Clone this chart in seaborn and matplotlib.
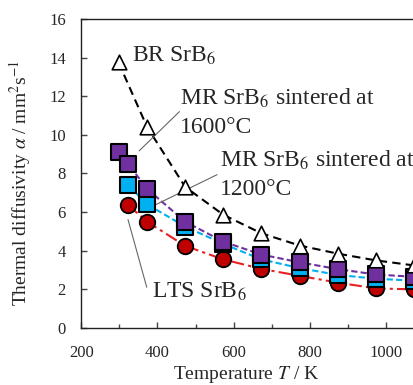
import numpy as np
import pandas as pd
import matplotlib
matplotlib.use("Agg")
import matplotlib.pyplot as plt
from matplotlib.ticker import MultipleLocator
import seaborn as sns

T_br = [298, 373, 473, 573, 673, 773, 873, 973, 1073]
a_br = [13.75, 10.4, 7.3, 5.86, 4.9, 4.27, 3.85, 3.5, 3.24]

T_mr1600 = [298, 323, 373, 473, 573, 673, 773, 873, 973, 1073]
a_mr1600 = [9.13, 8.5, 7.2, 5.5, 4.47, 3.8, 3.4, 3.05, 2.77, 2.65]

T_mr1200 = [323, 373, 473, 573, 673, 773, 873, 973, 1073]
a_mr1200 = [7.4, 6.4, 5.25, 4.35, 3.55, 3.1, 2.75, 2.55, 2.45]

T_lts = [323, 373, 473, 573, 673, 773, 873, 973, 1073]
a_lts = [6.37, 5.5, 4.25, 3.55, 3.06, 2.7, 2.35, 2.05, 2.0]

sns.set_style("ticks")
plt.rcParams['font.family'] = ['Liberation Serif', 'DejaVu Serif']
plt.rcParams['mathtext.fontset'] = 'stix'

fig = plt.figure(figsize=(4.14, 3.85), dpi=100)
ax = fig.add_axes([0.196, 0.148, 0.804, 0.803])

purple = '#7030A0'
cyan = '#00B0F0'
red = '#C00000'

# fit-like lines behind markers
sns.lineplot(x=T_lts, y=a_lts, ax=ax, color='#E82020', lw=1.5,
             zorder=1).lines[-1].set_dashes([6, 2, 1.5, 2])
sns.lineplot(x=T_mr1200, y=a_mr1200, ax=ax, color=cyan, lw=1.5,
             zorder=1).lines[-1].set_dashes([3, 1.5])
sns.lineplot(x=T_mr1600, y=a_mr1600, ax=ax, color=purple, lw=1.5,
             zorder=1).lines[-1].set_dashes([3, 1.5])
sns.lineplot(x=T_br, y=a_br, ax=ax, color='black', lw=1.5,
             zorder=1).lines[-1].set_dashes([4, 2.5])

# markers
sns.scatterplot(x=T_lts, y=a_lts, ax=ax, marker='o', s=125, color=red,
                edgecolor='black', linewidth=1.3, zorder=3, clip_on=False)
sns.scatterplot(x=T_mr1200, y=a_mr1200, ax=ax, marker='s', s=135, color=cyan,
                edgecolor='black', linewidth=1.5, zorder=4, clip_on=False)
sns.scatterplot(x=T_mr1600, y=a_mr1600, ax=ax, marker='s', s=135, color=purple,
                edgecolor='black', linewidth=1.5, zorder=5, clip_on=False)
sns.scatterplot(x=T_br, y=a_br, ax=ax, marker='^', s=110, color='white',
                edgecolor='black', linewidth=1.2, zorder=6, clip_on=False)

ax.set_xlim(200, 1073)
ax.set_ylim(0, 16)
ax.xaxis.set_major_locator(MultipleLocator(200))
ax.xaxis.set_minor_locator(MultipleLocator(100))
ax.yaxis.set_major_locator(MultipleLocator(2))
ax.tick_params(axis='both', which='major', direction='in', length=4,
               width=1, labelsize=12, color='#444444')
ax.tick_params(axis='x', which='major', pad=12)
ax.tick_params(axis='y', which='major', pad=11)
ax.tick_params(axis='x', which='minor', direction='in', length=3,
               width=1, color='#444444')
for s in ['left', 'bottom', 'top']:
    ax.spines[s].set_linewidth(1.0)
    ax.spines[s].set_color('#222222')
ax.spines['right'].set_visible(False)
ax.spines['top'].set_visible(True)

ax.set_xlabel(r'Temperature $T$ / K', fontsize=14)
ax.set_ylabel(r'Thermal diffusivity $\alpha$ / mm$^2$s$^{-1}$', fontsize=14)
ax.xaxis.set_label_coords(0.495, -0.115)
ax.yaxis.set_label_coords(-0.145, 0.47)

# annotations
fs = 17
lc = '#666666'
ax.text(334, 13.78, r'BR SrB$_6$', fontsize=fs, va='baseline', ha='left')

ax.text(458, 11.55, r'MR SrB$_6$ sintered at', fontsize=fs, va='baseline')
ax.text(458, 10.1, '1600\u00b0C', fontsize=fs, va='baseline')
ax.annotate('', xy=(347, 9.07), xytext=(463, 11.3),
            arrowprops=dict(arrowstyle='-', color=lc, lw=0.8))

ax.text(563, 8.34, r'MR SrB$_6$ sintered at', fontsize=fs, va='baseline')
ax.text(563, 6.89, '1200\u00b0C', fontsize=fs, va='baseline')
ax.annotate('', xy=(384, 6.27), xytext=(563, 8.0),
            arrowprops=dict(arrowstyle='-', color=lc, lw=0.8))

ax.text(387, 1.55, r'LTS SrB$_6$', fontsize=fs, va='baseline')
ax.annotate('', xy=(321, 5.75), xytext=(374, 1.97),
            arrowprops=dict(arrowstyle='-', color=lc, lw=0.8))

fig.savefig('out.png', dpi=100)
